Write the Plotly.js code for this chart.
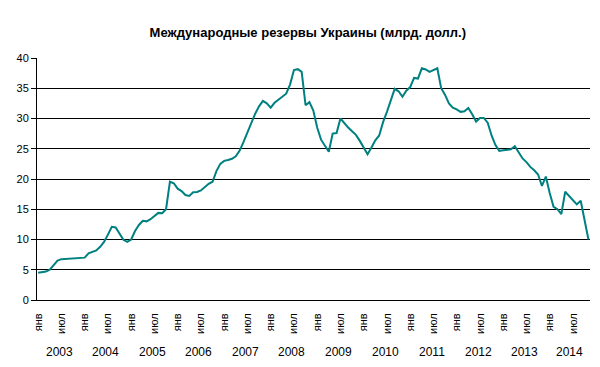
<!DOCTYPE html>
<html>
<head>
<meta charset="utf-8">
<script src="https://cdn.plot.ly/plotly-3.0.1.min.js"></script>
<style>html,body{margin:0;padding:0;background:#fff;}#chart{width:600px;height:367px;}</style>
</head>
<body>
<div id="chart"></div>
<script>
// Years covered and month short names (Russian)
const years = [2003, 2004, 2005, 2006, 2007, 2008, 2009, 2010, 2011, 2012, 2013, 2014];
const monthNames = ["янв", "фев", "мар", "апр", "май", "июн", "июл", "авг", "сен", "окт", "ноя", "дек"];
const labeledMonths = ["янв", "июл"];

// International reserves of Ukraine, bn USD, end of month (Jan 2003 – Nov 2014)
const reserves2003 = [4.5, 4.6, 4.7, 5.0, 5.8, 6.5, 6.75, 6.8, 6.85, 6.9, 6.9, 6.95];
const reserves2004 = [7.0, 7.7, 7.95, 8.2, 8.8, 9.6, 10.8, 12.1, 12.0, 10.9, 9.95, 9.6];
const reserves2005 = [10.0, 11.4, 12.4, 13.1, 13.0, 13.35, 13.9, 14.4, 14.35, 15.0, 19.55, 19.3];
const reserves2006 = [18.4, 18.0, 17.35, 17.2, 17.8, 17.85, 18.1, 18.65, 19.2, 19.55, 21.3, 22.5];
const reserves2007 = [23.0, 23.15, 23.35, 23.75, 24.7, 26.15, 27.7, 29.3, 30.8, 32.0, 32.9, 32.5];
const reserves2008 = [31.8, 32.6, 33.1, 33.6, 34.1, 35.6, 38.0, 38.15, 37.7, 32.2, 32.7, 31.3];
const reserves2009 = [28.5, 26.5, 25.4, 24.5, 27.5, 27.6, 30.0, 29.2, 28.5, 27.9, 27.3, 26.3];
const reserves2010 = [25.1, 24.1, 25.2, 26.4, 27.2, 29.4, 31.1, 33.2, 34.9, 34.5, 33.6, 34.6];
const reserves2011 = [35.2, 36.7, 36.6, 38.3, 38.1, 37.7, 38.0, 38.3, 35.0, 33.9, 32.5, 31.8];
const reserves2012 = [31.5, 31.1, 31.2, 31.75, 30.7, 29.5, 30.1, 30.1, 29.3, 27.2, 25.6, 24.65];
const reserves2013 = [24.75, 24.8, 24.9, 25.4, 24.5, 23.4, 22.8, 22.0, 21.45, 20.75, 18.85, 20.4];
const reserves2014 = [17.7, 15.4, 15.0, 14.2, 17.9, 17.2, 16.5, 15.8, 16.4, 13.2, 10.0];

const seriesByYear = [reserves2003, reserves2004, reserves2005, reserves2006, reserves2007, reserves2008,
  reserves2009, reserves2010, reserves2011, reserves2012, reserves2013, reserves2014];

const FONT = 'Arial, "Liberation Sans", sans-serif';

const categories = [];
const values = [];
const tickvals = [];
const ticktext = [];
const yearAnnotations = [];

years.forEach((yr, k) => {
  const vals = seriesByYear[k];
  const first = categories.length;
  vals.forEach((v, m) => {
    const cat = yr + "-" + monthNames[m];
    categories.push(cat);
    values.push(v);
    if (labeledMonths.includes(monthNames[m])) {
      tickvals.push(cat);
      ticktext.push(monthNames[m]);
    }
  });
  const last = categories.length - 1;
  yearAnnotations.push({
    x: (first + last) / 2, xref: 'x',
    y: -0.213, yref: 'paper', yanchor: 'middle', xanchor: 'center',
    text: String(yr), showarrow: false,
    font: {family: FONT, size: 12, color: '#000'}
  });
});

const trace = {
  type: 'scatter', mode: 'lines',
  x: categories, y: values,
  line: {color: '#008080', width: 2},
  hoverinfo: 'x+y'
};

const layout = {
  width: 600, height: 367,
  margin: {l: 37, r: 10, t: 58, b: 67, pad: 0},
  paper_bgcolor: '#fff', plot_bgcolor: '#fff',
  showlegend: false,
  title: {
    text: 'Международные резервы Украины (млрд. долл.)',
    font: {family: FONT, size: 13, color: '#000', weight: 'bold'},
    x: 0.513, xref: 'container', xanchor: 'center',
    y: 0.912, yref: 'container', yanchor: 'middle'
  },
  xaxis: {
    type: 'category',
    range: [-0.3, 142.4],
    tickmode: 'array', tickvals: tickvals, ticktext: ticktext,
    tickangle: -90,
    tickfont: {family: FONT, size: 11, color: '#000'},
    ticks: '', showgrid: false, zeroline: false,
    showline: true, linecolor: '#000', linewidth: 1,
    ticklabelstandoff: 8,
    fixedrange: true
  },
  yaxis: {
    range: [0, 40], dtick: 5, tick0: 0,
    tickfont: {family: FONT, size: 11, color: '#000'},
    showgrid: true, gridcolor: '#000', gridwidth: 1,
    zeroline: false,
    showline: true, linecolor: '#000', linewidth: 1,
    ticks: 'outside', ticklen: 5, tickcolor: '#000', tickwidth: 1,
    fixedrange: true
  },
  annotations: yearAnnotations
};

Plotly.newPlot('chart', [trace], layout, {displayModeBar: false, staticPlot: true});
</script>
</body>
</html>
